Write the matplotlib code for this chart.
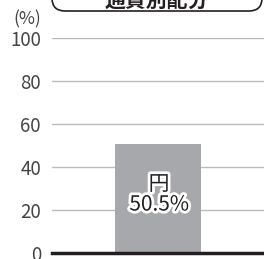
import matplotlib
matplotlib.use("Agg")
import matplotlib.pyplot as plt
import matplotlib.patheffects as pe
from matplotlib.patches import FancyBboxPatch

plt.rcParams['font.family'] = ['Noto Sans CJK JP', 'DejaVu Sans']

# data
categories = ["円"]
shares = [50.5]
yticks = [0, 20, 40, 60, 80, 100]
title = "通貨別配分"

W, H = 264, 259
fig = plt.figure(figsize=(W / 100, H / 100), dpi=100)
ax = fig.add_axes([52 / W, 1 - 253 / H, 1 - 52 / W, 215 / H])

ax.bar([0], shares, width=0.41, color="#a7a8ab", zorder=2)
for i, (cat, val) in enumerate(zip(categories, shares)):
    ax.text(i + 0.005, val * 0.54, f"{cat}\n{val}%", ha="center", va="center",
            fontsize=15, color="#231f20", linespacing=0.9, zorder=4,
            path_effects=[pe.withStroke(linewidth=4, foreground="white")])

ax.set_xlim(-0.5, 0.5)
ax.set_ylim(0, 100)
ax.set_yticks(yticks)
ax.set_xticks([])
ax.tick_params(axis="y", length=0, pad=8, labelsize=13.5, labelcolor="#444444")
for y in yticks[1:]:
    ax.axhline(y, color="#bbbbbb", lw=1, zorder=1)
ax.axhline(0, color="#231f20", lw=2.5, zorder=3, clip_on=False)
for s in ax.spines.values():
    s.set_visible(False)

fig.text(27 / W, 1 - 19 / H, "(%)", ha="center", va="center",
         fontsize=12.5, color="#444444")

# title box (cut off at top)
box = FancyBboxPatch((52 / W, 1 - 11 / H), 210 / W, 30 / H,
                     boxstyle="round,pad=0,rounding_size=0.05",
                     transform=fig.transFigure, facecolor="white",
                     edgecolor="#231f20", lw=1.2, clip_on=False)
fig.patches.append(box)
fig.text(157 / W, 1 + 0 / H, title, ha="center", va="center",
         fontsize=15, fontweight="bold", color="#231f20")

fig.savefig("out.png", dpi=100)
